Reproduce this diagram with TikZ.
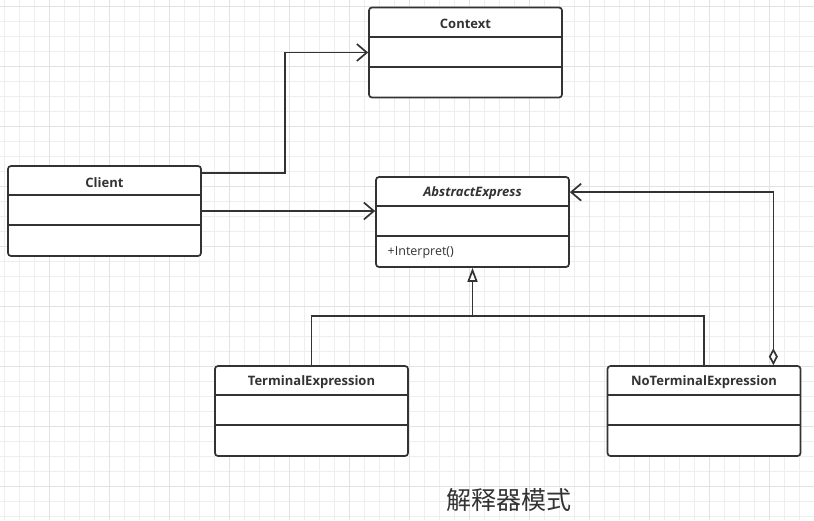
\documentclass[tikz,border=0pt]{standalone}
\usepackage{fontspec}
\setmainfont{Open Sans}
\newfontfamily\cjk{Noto Sans CJK SC}
\usetikzlibrary{arrows.meta,calc}
\definecolor{ink}{HTML}{333333}
\definecolor{gminor}{HTML}{EEEEEE}
\definecolor{gmajor}{HTML}{E2E2E2}
\tikzset{
  cls/.style={draw=ink, line width=1.7pt, rounded corners=3pt, fill=white, minimum width=193pt, minimum height=90pt, inner sep=0pt},
  ttl/.style={font=\fontsize{13}{15}\selectfont\bfseries, text=ink},
  mem/.style={font=\fontsize{12.5}{15}\selectfont, text=ink, anchor=west},
  conn/.style={draw=ink, line width=1.7pt},
  assoc/.style={conn, -{Straight Barb[length=10pt,width=17pt,line width=1.7pt]}},
  genz/.style={conn, -{Triangle[open,length=14pt,width=10pt,line width=1.7pt,fill=white]}},
  aggr/.style={conn, {Diamond[open,length=17pt,width=9pt,line width=1.7pt,fill=white]}-{Straight Barb[length=10pt,width=17pt,line width=1.7pt]}},
}
\newcommand\umlclassbox[4]{%
  \node[cls] (#1) at (#2) {};
  \draw[ink, line width=1.7pt] ($(#1.north west)+(0,30)$) -- ($(#1.north east)+(0,30)$);
  \draw[ink, line width=1.7pt] ($(#1.north west)+(0,60)$) -- ($(#1.north east)+(0,60)$);
  \node[ttl] (#1t) at ($(#1.north)+(0,17)$) {#3};
}
\begin{document}
\begin{tikzpicture}[x=1pt,y=-1pt]
\useasboundingbox (0,0) rectangle (814,520);
\fill[white] (0,0) rectangle (814,520);
% grid
\foreach \x in {4,19,...,814} \draw[gminor, line width=1pt] (\x,0) -- (\x,520);
\foreach \y in {6,21,...,520} \draw[gminor, line width=1pt] (0,\y) -- (814,\y);
\foreach \x in {49,109,...,814} \draw[gmajor, line width=1pt] (\x,0) -- (\x,520);
\foreach \y in {6,66,...,520} \draw[gmajor, line width=1pt] (0,\y) -- (814,\y);
% classes
\umlclassbox{ctx}{465.5,52.5}{Context}{}
\umlclassbox{cl}{104.5,211}{Client}{}
\umlclassbox{ab}{472.5,222}{\itshape AbstractExpress}{}
\node[mem] (abm) at ($(ab.north west)+(9,76.5)$) {+Interpret()};
\umlclassbox{te}{311.5,411}{TerminalExpression}{}
\umlclassbox{nte}{704,411}{NoTerminalExpression}{}
% connectors
\draw[assoc] ([yshift=-8pt]cl.north east) -| ($(ctx.west)+(-83,0)$) -- (ctx.west);
\draw[assoc] (cl.east) -- (cl.east -| ab.west);
\coordinate (j) at (472.5,316);
\draw[conn] (te.north) |- (j) -| (nte.north);
\draw[genz] (j) -- (ab.south);
\draw[aggr] ([xshift=-28pt]nte.north east) |- ([yshift=-16pt]ab.north east);
% title
\node[font=\cjk\fontsize{25}{28}\selectfont, text=ink] (title) at (509,500) {解释器模式};
\end{tikzpicture}
\end{document}
